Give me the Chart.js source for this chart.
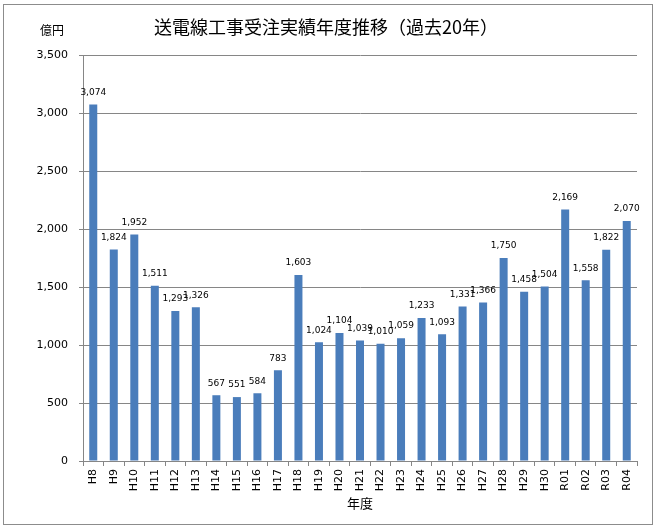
<!DOCTYPE html>
<html>
<head>
<meta charset="utf-8">
<script src="https://cdn.jsdelivr.net/npm/chart.js@4/dist/chart.umd.min.js"></script>
<style>
  html, body { margin: 0; padding: 0; background: #fff; }
  #wrap { position: relative; width: 656px; height: 529px; }
</style>
</head>
<body>
<div id="wrap"><canvas id="c" width="656" height="529"></canvas></div>
<script>
const categories = ['H8','H9','H10','H11','H12','H13','H14','H15','H16','H17','H18','H19','H20','H21','H22','H23','H24','H25','H26','H27','H28','H29','H30','R01','R02','R03','R04'];
const values = [3074, 1824, 1952, 1511, 1293, 1326, 567, 551, 584, 783, 1603, 1024, 1104, 1039, 1010, 1059, 1233, 1093, 1331, 1366, 1750, 1458, 1504, 2169, 1558, 1822, 2070];
const chartTitle = '送電線工事受注実績年度推移（過去20年）';
const yUnit = '億円';
const xTitle = '年度';
const yMax = 3500;
const yStep = 500;

const gray = '#868686';
const latin = '"DejaVu Sans", Verdana, sans-serif';
const cjk = '"Noto Sans CJK JP", sans-serif';

const decor = {
  id: 'decor',
  beforeDraw(chart) {
    const ctx = chart.ctx;
    ctx.save();
    ctx.strokeStyle = '#8c8c8c';
    ctx.lineWidth = 1;
    ctx.strokeRect(3.5, 4.5, 649, 520);
    ctx.restore();
  },
  afterDatasetsDraw(chart) {
    const ctx = chart.ctx;
    const meta = chart.getDatasetMeta(0);
    ctx.save();
    ctx.fillStyle = '#000';
    ctx.font = '9px ' + latin;
    ctx.textAlign = 'center';
    ctx.textBaseline = 'middle';
    meta.data.forEach((bar, i) => {
      ctx.fillText(values[i].toLocaleString('en-US'), bar.x, bar.y - 12);
    });
    ctx.restore();
  },
  afterDraw(chart) {
    const ctx = chart.ctx;
    const ya = chart.scales.y;
    ctx.save();
    ctx.fillStyle = '#000';
    ctx.textBaseline = 'middle';
    ctx.textAlign = 'center';
    ctx.font = '18px ' + cjk;
    ctx.fillText(chartTitle, 326, 27);
    ctx.font = '12px ' + cjk;
    ctx.fillText(yUnit, ya.left + 52, 30);
    ctx.restore();
  }
};

new Chart(document.getElementById('c'), {
  type: 'bar',
  data: {
    labels: categories,
    datasets: [{
      data: values,
      backgroundColor: '#4a7dbb',
      borderWidth: 0,
      barPercentage: 0.39,
      categoryPercentage: 1
    }]
  },
  options: {
    responsive: false,
    animation: false,
    events: [],
    layout: { padding: { left: 0, top: 55, right: 19, bottom: 0 } },
    plugins: {
      legend: { display: false },
      title: { display: false },
      tooltip: { enabled: false }
    },
    scales: {
      x: {
        afterFit(s) { s.height = 68; },
        grid: { display: true, drawOnChartArea: false, drawTicks: true, tickLength: 5, color: gray, offset: true },
        border: { display: true, color: gray },
        ticks: {
          autoSkip: false, maxRotation: 90, minRotation: 90, padding: 3,
          color: '#000', font: { family: latin, size: 11 }
        },
        title: {
          display: true, text: xTitle, color: '#000',
          font: { family: cjk, size: 13 },
          padding: { top: 4, bottom: 18 }
        }
      },
      y: {
        min: 0, max: yMax,
        afterFit(s) { s.width = 83; },
        grid: { color: gray, drawTicks: true, tickLength: 4 },
        border: { display: true, color: gray },
        ticks: {
          stepSize: yStep, padding: 11, color: '#000',
          font: { family: latin, size: 11 },
          callback: v => v.toLocaleString('en-US')
        }
      }
    }
  },
  plugins: [decor]
});
</script>
</body>
</html>
